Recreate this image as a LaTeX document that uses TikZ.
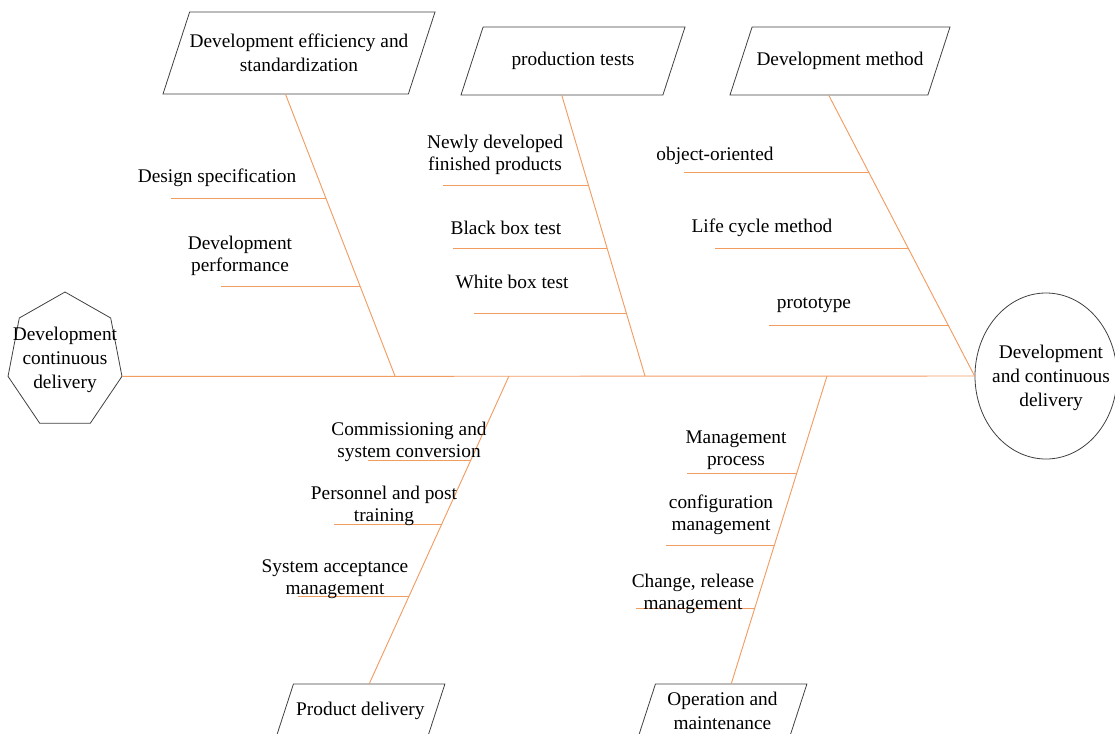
\documentclass[tikz,border=0pt]{standalone}
\usepackage{fontspec}
\setmainfont{Liberation Serif}
\usetikzlibrary{%
    calc,
    positioning,
    shapes.geometric
}
\definecolor{boneorange}{RGB}{243,156,98}
\definecolor{boxgray}{RGB}{64,64,64}
\newcommand{\labelfont}{\fontsize{14.5pt}{16.5pt}\selectfont}
\newcommand{\boxfont}{\fontsize{14.5pt}{18pt}\selectfont}

\begin{document}
\begin{tikzpicture}[x=0.75pt, y=-0.75pt,
    bone/.style={draw=boneorange, line width=0.7pt},
    catbox/.style={trapezium, trapezium left angle=72, trapezium right angle=108,
                   trapezium stretches body=true, draw=boxgray, line width=0.6pt,
                   inner xsep=0pt},
    boxtext/.style={align=center, font=\boxfont},
    sublabel/.style={align=center, font=\labelfont, inner sep=0pt}]
    \useasboundingbox (0,0) rectangle (1115,733);

    % tail and head of the fish
    \node (tail) at (65,361) [regular polygon, regular polygon sides=7,
        minimum size=103.5pt, inner sep=0pt, draw=boxgray, line width=0.6pt,
        xscale=0.847, transform shape] {};
    \node (tail-txt) at (65,359.5) [boxtext] {Development\\continuous\\delivery};
    \node (head) at (1046,376) [ellipse, draw=boxgray, line width=0.6pt, inner sep=0pt,
        minimum width=106.5pt, minimum height=124.5pt] {};
    \node (head-txt) at (1051,378) [boxtext] {Development\\and continuous\\delivery};

    % category boxes
    \node (cat1) at (299,53)    [catbox, minimum width=204pt, inner ysep=30.75pt,
        label={[boxtext]center:Development efficiency and\\standardization}] {};
    \node (cat2) at (573,61)    [catbox, minimum width=168pt, inner ysep=25.5pt,
        label={[boxtext]center:production tests}] {};
    \node (cat3) at (840,61)    [catbox, minimum width=165pt, inner ysep=25.5pt,
        label={[boxtext]center:Development method}] {};
    \node (cat4) at (360.4,711) [catbox, minimum width=126.75pt, inner ysep=20.25pt,
        label={[boxtext]center:Product delivery}] {};
    \node (cat5) at (722.4,711) [catbox, minimum width=126.75pt, inner ysep=20.25pt,
        label={[boxtext]center:Operation and\\maintenance}] {};

    % spine and main bones
    \coordinate (j1) at (395,376);
    \coordinate (j2) at (645,376);
    \coordinate (j4) at (509,376);
    \coordinate (j5) at (827,376);
    \draw[bone] (tail.corner 6) -- (head.west);
    \foreach \Source/\Target in {%
        cat1.bottom side/j1,
        cat2.bottom side/j2,
        cat3.bottom side/head.west,
        j4/cat4.top side,
        j5/cat5.top side%
    }
    \draw[bone] (\Source) -- (\Target);

    % small bones
    \foreach \Source/\Target/\Frac/\Len/\Name in {%
        cat1.bottom side/j1/0.369/155/d1,
        cat1.bottom side/j1/0.681/139/d2,
        cat2.bottom side/j2/0.320/145/d3,
        cat2.bottom side/j2/0.544/154/d4,
        cat2.bottom side/j2/0.776/152/d5,
        cat3.bottom side/head.west/0.274/185/d6,
        cat3.bottom side/head.west/0.544/193/d7,
        cat3.bottom side/head.west/0.819/179/d8,
        j4/cat4.top side/0.276/102/d9,
        j4/cat4.top side/0.484/107/d10,
        j4/cat4.top side/0.718/111/d11,
        j5/cat5.top side/0.318/110/d12,
        j5/cat5.top side/0.552/108/d13,
        j5/cat5.top side/0.756/119/d14%
    }
    \draw[bone] ($(\Source)!\Frac!(\Target)$) coordinate (\Name) -- ++(-\Len,0);

    % causes
    \node (design)   at (217,177.5) [sublabel] {Design specification};
    \node (perf)     at (240,256)   [sublabel] {Development\\performance};
    \node (newly)    at (495,155)   [sublabel] {Newly developed\\finished products};
    \node (black)    at (506,228)   [sublabel] {Black box test};
    \node (white)    at (512,282)   [sublabel] {White box test};
    \node (object)   at (715,155.5) [sublabel] {object-oriented};
    \node (life)     at (762,228)   [sublabel] {Life cycle method};
    \node (proto)    at (814,305.5) [sublabel] {prototype};
    \node (commis)   at (409,441.5) [sublabel] {Commissioning and\\system conversion};
    \node (person)   at (384,506)   [sublabel] {Personnel and post\\training};
    \node (accept)   at (335,579)   [sublabel] {System acceptance\\management};
    \node (manage)   at (736,450)   [sublabel] {Management\\process};
    \node (config)   at (721,514.5) [sublabel] {configuration\\management};
    \node (change)   at (693,594)   [sublabel] {Change, release\\management};
\end{tikzpicture}
\end{document}
